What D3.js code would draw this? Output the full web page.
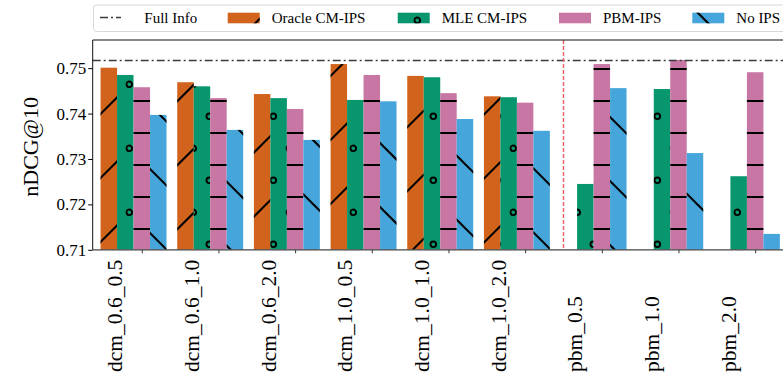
<!DOCTYPE html>
<html>
<head>
<meta charset="utf-8">
<script src="https://cdn.jsdelivr.net/npm/d3@7"></script>
<style>
  html, body { margin: 0; padding: 0; background: #fff; }
  svg { display: block; font-family: "Liberation Serif", "Times New Roman", serif; }
</style>
</head>
<body>
<svg id="chart" width="783" height="386"></svg>
<script>
// ---- data ----
const categories = ["dcm_0.6_0.5", "dcm_0.6_1.0", "dcm_0.6_2.0", "dcm_1.0_0.5", "dcm_1.0_1.0", "dcm_1.0_2.0", "pbm_0.5", "pbm_1.0", "pbm_2.0"];
const seriesNames = ["Oracle CM-IPS", "MLE CM-IPS", "PBM-IPS", "No IPS"];
const oracleCM = [0.7501, 0.7469, 0.7443, 0.7509, 0.7483, 0.7438, null, null, null];
const mleCM    = [0.7485, 0.7460, 0.7434, 0.7430, 0.7480, 0.7436, 0.7245, 0.7454, 0.7262];
const pbmIPS   = [0.7458, 0.7434, 0.7410, 0.7485, 0.7445, 0.7424, 0.7509, 0.7518, 0.7491];
const noIPS    = [0.7397, 0.7364, 0.7342, 0.7427, 0.7388, 0.7362, 0.7456, 0.7313, 0.7135];
const fullInfo = 0.7517;
const yTicks = [0.71, 0.72, 0.73, 0.74, 0.75];
const yLabel = "nDCG@10";
const fullInfoLabel = "Full Info";

const colors = ["#D2631D", "#07966D", "#C877A4", "#46A6DB"];
const hatchIds = ["hatch-slash", "hatch-circle", "hatch-dash", "hatch-back"];
const seriesValues = [oracleCM, mleCM, pbmIPS, noIPS];

const svg = d3.select("#chart");
const plot = { left: 92.7, top: 40, bottom: 249.8, right: 782 };

const x = d3.scaleLinear().domain([-0.64, 8.35]).range([plot.left, plot.right]);
const y = d3.scaleLinear().domain([0.71, 0.7562]).range([plot.bottom, plot.top]);
const barW = 0.215;

// ---- hatch patterns (aligned to page) ----
const defs = svg.append("defs");
const hs = "#000", hw = 2;
// '/'
let p = defs.append("pattern").attr("id", hatchIds[0]).attr("patternUnits", "userSpaceOnUse")
  .attr("width", 64).attr("height", 64);
[22.5 - 64, 22.5, 86.5, 150.5].forEach(c => {
  p.append("line").attr("x1", c + 10).attr("y1", -10).attr("x2", c - 80).attr("y2", 80)
    .attr("stroke", hs).attr("stroke-width", hw);
});
// 'o'
p = defs.append("pattern").attr("id", hatchIds[1]).attr("patternUnits", "userSpaceOnUse")
  .attr("width", 32).attr("height", 64);
[[1.3, 20.3], [33.3, 20.3], [17.3, 52.3]].forEach(([cx, cy]) => {
  p.append("circle").attr("cx", cx).attr("cy", cy).attr("r", 2.8)
    .attr("fill", "none").attr("stroke", hs).attr("stroke-width", 1.9);
});
// '-'
p = defs.append("pattern").attr("id", hatchIds[2]).attr("patternUnits", "userSpaceOnUse")
  .attr("width", 32).attr("height", 32);
p.append("line").attr("x1", -1).attr("x2", 33).attr("y1", 5).attr("y2", 5)
  .attr("stroke", hs).attr("stroke-width", hw);
// '\'
p = defs.append("pattern").attr("id", hatchIds[3]).attr("patternUnits", "userSpaceOnUse")
  .attr("width", 64).attr("height", 64);
[45 - 128, 45 - 64, 45, 45 + 64].forEach(c => {
  p.append("line").attr("x1", c - 10).attr("y1", -10).attr("x2", c + 80).attr("y2", 80)
    .attr("stroke", hs).attr("stroke-width", hw);
});

// ---- bars ----
const clip = defs.append("clipPath").attr("id", "plotclip");
clip.append("rect").attr("x", plot.left).attr("y", plot.top)
  .attr("width", plot.right - plot.left).attr("height", plot.bottom - plot.top);

const barsG = svg.append("g").attr("clip-path", "url(#plotclip)");
seriesValues.forEach((vals, j) => {
  const data = vals.map((v, i) => ({ i, v })).filter(d => d.v !== null);
  const g = barsG.append("g");
  const bx = d => x(d.i + (j - 2) * barW - barW / 2);
  const bw = x(barW) - x(0);
  g.selectAll("rect.fill").data(data).join("rect").attr("class", "fill")
    .attr("x", bx).attr("width", bw)
    .attr("y", d => y(d.v)).attr("height", d => y(0.71) - y(d.v))
    .attr("fill", colors[j]);
  g.selectAll("rect.hatch").data(data).join("rect").attr("class", "hatch")
    .attr("x", bx).attr("width", bw)
    .attr("y", d => y(d.v)).attr("height", d => y(0.71) - y(d.v))
    .attr("fill", `url(#${hatchIds[j]})`);
});

// ---- reference lines ----
svg.append("line")
  .attr("x1", plot.left).attr("x2", plot.right + 5)
  .attr("y1", y(fullInfo)).attr("y2", y(fullInfo))
  .attr("stroke", "#3a3a3a").attr("stroke-width", 1.5)
  .attr("stroke-dasharray", "8,3,2,3");

svg.append("line")
  .attr("x1", x(5.5)).attr("x2", x(5.5))
  .attr("y1", plot.top).attr("y2", plot.bottom)
  .attr("stroke", "#E8666A").attr("stroke-width", 1.5)
  .attr("stroke-dasharray", "4,2");

// ---- axes ----
const yAxis = d3.axisLeft(y).tickValues(yTicks).tickFormat(d3.format(".2f")).tickSize(4.5).tickPadding(2);
const yg = svg.append("g").attr("transform", `translate(${plot.left},0)`).call(yAxis);
yg.select(".domain").remove();
yg.selectAll("text").attr("font-size", 17).attr("fill", "#000")
  .attr("font-family", "Liberation Serif, serif");
yg.selectAll("line").attr("stroke", "#000");

const xAxis = d3.axisBottom(x).tickValues(d3.range(categories.length)).tickFormat(i => categories[i]).tickSize(3.5);
const xg = svg.append("g").attr("transform", `translate(0,${plot.bottom})`).call(xAxis);
xg.select(".domain").remove();
xg.selectAll("line").attr("stroke", "#333");
xg.selectAll("text")
  .attr("font-size", 21.5).attr("fill", "#000")
  .attr("font-family", "Liberation Serif, serif")
  .attr("transform", "rotate(-90)")
  .attr("text-anchor", "start")
  .attr("dy", null)
  .attr("x", -(372 - plot.bottom))
  .attr("y", -20);

// spines
svg.append("line").attr("x1", plot.left).attr("x2", plot.left).attr("y1", plot.top).attr("y2", plot.bottom)
  .attr("stroke", "#111").attr("stroke-width", 1);
svg.append("line").attr("x1", plot.left).attr("x2", 783).attr("y1", plot.top).attr("y2", plot.top)
  .attr("stroke", "#111").attr("stroke-width", 1);
svg.append("line").attr("x1", plot.left).attr("x2", 783).attr("y1", plot.bottom).attr("y2", plot.bottom)
  .attr("stroke", "#444").attr("stroke-width", 1.2);

// y label
svg.append("text")
  .attr("transform", `translate(38,${(plot.top + plot.bottom) / 2 + 2}) rotate(-90)`)
  .attr("text-anchor", "middle")
  .attr("font-size", 22)
  .text(yLabel);

// ---- legend ----
const lg = svg.append("g");
lg.append("rect").attr("x", 93.5).attr("y", 5).attr("width", 720).attr("height", 26.5)
  .attr("rx", 3).attr("fill", "#fff").attr("stroke", "#d8d8d8").attr("stroke-width", 1);
lg.append("line").attr("x1", 100).attr("x2", 121).attr("y1", 17.5).attr("y2", 17.5)
  .attr("stroke", "#3a3a3a").attr("stroke-width", 1.5).attr("stroke-dasharray", "8,3,2,3");
lg.append("text").attr("x", 144.3).attr("y", 23.3).attr("font-size", 15).text(fullInfoLabel);
const patchX = [227.7, 397.7, 559, 692.3];
seriesNames.forEach((name, j) => {
  lg.append("rect").attr("x", patchX[j]).attr("y", 12.7).attr("width", 32).attr("height", 10.6)
    .attr("fill", colors[j]);
  lg.append("rect").attr("x", patchX[j]).attr("y", 12.7).attr("width", 32).attr("height", 10.6)
    .attr("fill", `url(#${hatchIds[j]})`);
  lg.append("text").attr("x", patchX[j] + 44).attr("y", 23.3).attr("font-size", 15).text(name);
});
</script>
</body>
</html>
